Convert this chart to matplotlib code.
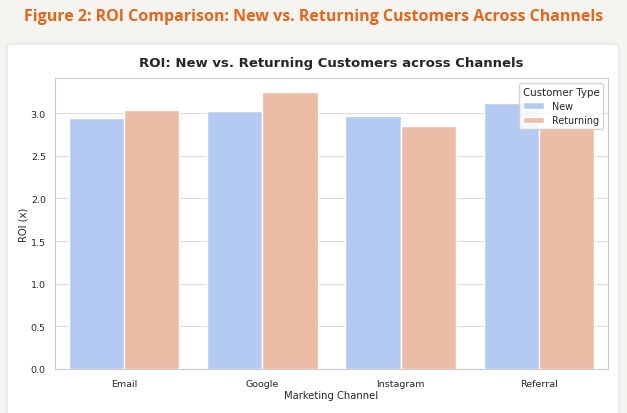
import numpy as np
import pandas as pd
import seaborn as sns
import matplotlib.pyplot as plt
from matplotlib.patches import FancyBboxPatch

sns.set_theme(style="whitegrid")

channels = ["Email", "Google", "Instagram", "Referral"]
roi_new = [2.94, 3.03, 2.97, 3.12]
roi_returning = [3.04, 3.25, 2.85, 2.84]

df = pd.DataFrame({
    "Marketing Channel": channels * 2,
    "ROI": roi_new + roi_returning,
    "Customer Type": ["New"] * 4 + ["Returning"] * 4,
})

fig = plt.figure(figsize=(6.27, 4.14), dpi=100)
fig.patch.set_facecolor("#f6f4f1")

# white card behind the chart
card = FancyBboxPatch((7 / 627, -0.02), 612 / 627, 1 - 45 / 414 + 0.02,
                      boxstyle="round,pad=0,rounding_size=0.008",
                      transform=fig.transFigure, facecolor="white",
                      edgecolor="#e3e1de", linewidth=0.8, zorder=-1)
fig.patches.append(card)

fig.text(0.5, 1 - 17 / 414, "Figure 2: ROI Comparison: New vs. Returning Customers Across Channels",
         ha="center", va="center", color="#e4651c", fontsize=11.5,
         fontweight="bold", family="Open Sans")

ax = fig.add_axes([55 / 627, 1 - 370 / 414, (608 - 55) / 627, (370 - 79) / 414])
ax.set_zorder(1)
sns.barplot(data=df, x="Marketing Channel", y="ROI", hue="Customer Type",
            palette="coolwarm", ax=ax)

ax.set_title("ROI: New vs. Returning Customers across Channels",
             fontsize=9.5, fontweight="bold", pad=9)
ax.set_xlabel("Marketing Channel", fontsize=7.2, labelpad=1.5)
ax.set_ylabel("ROI (x)", fontsize=7.2, labelpad=1.5)
ax.tick_params(axis="x", labelsize=6.8, pad=1.2)
ax.tick_params(axis="y", labelsize=6.8, pad=0.6)
for s in ax.spines.values():
    s.set_color("#cccccc")
    s.set_linewidth(0.8)
ax.grid(axis="x", visible=False)
ax.grid(axis="y", color="#dddddd", linewidth=0.8)

leg = ax.legend(title="Customer Type", loc="upper right", fontsize=6.9,
                title_fontsize=7.4, framealpha=0.85, borderpad=0.4,
                handlelength=2.2, labelspacing=0.45)

fig.savefig("out.png", dpi=100, facecolor=fig.get_facecolor())
